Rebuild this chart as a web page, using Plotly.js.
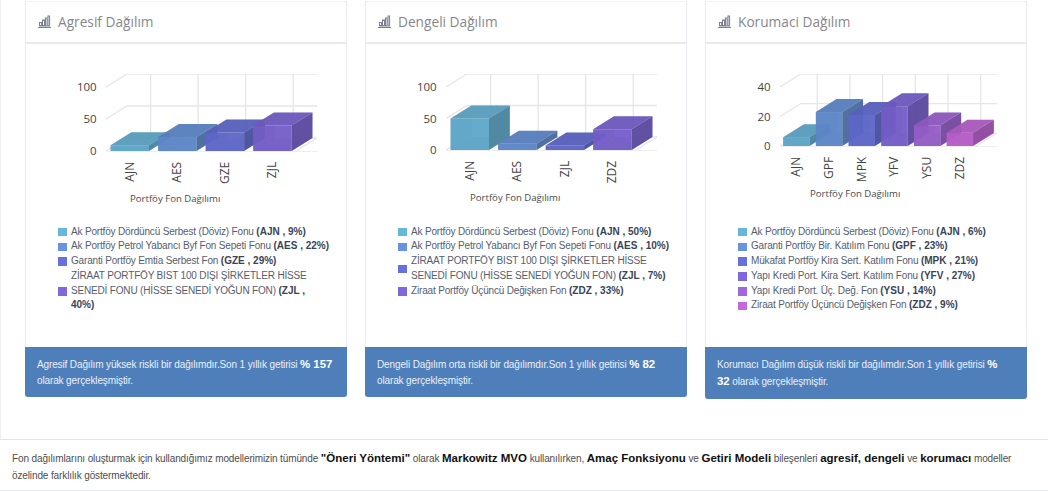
<!DOCTYPE html>
<html lang="tr">
<head>
<meta charset="utf-8">
<script src="https://cdn.plot.ly/plotly-3.0.1.min.js"></script>
<style>
html,body{margin:0;padding:0;background:#fff;width:1048px;height:491px;overflow:hidden;font-family:"Liberation Sans",Arial,sans-serif}
.abs{position:absolute}
.card{position:absolute;top:1px;width:322px;box-sizing:border-box;border:1px solid #e9ebf1;border-bottom:none;border-top-color:#f1f2f5;background:#fff}
.head{position:absolute;left:0;right:0;top:0;height:40px;border-bottom:2px solid #e8eaef}
.head svg{position:absolute;left:12px;top:13px}
.head span{position:absolute;left:32px;top:10px;font:13.7px "Open Sans",sans-serif;color:#85878e;white-space:nowrap}
.plot{position:absolute;left:0;top:43px;width:320px;height:166px}
.legend{position:absolute;left:32px;top:222.5px;width:272px;font-size:10px;line-height:14.8px;color:#555e70}
.item{position:relative;padding-left:13px}
.item i{position:absolute;left:0;top:50%;margin-top:-4px;width:8.5px;height:8.5px}
.ln{white-space:nowrap}
.legend .ln span{letter-spacing:-0.17px}
.item b{color:#3a4457}
.foot{position:absolute;left:-1px;right:-1px;top:345px;background:#4f7fbb;color:#eaf0f8;font-size:10px;line-height:16px;padding:9px 12px 8px 12px;border-radius:0 0 3px 3px;box-sizing:border-box}
.foot span{letter-spacing:-0.13px}
.foot b{font-size:11.4px;color:#fff}
#note{position:absolute;left:12px;top:449.5px;width:1030px;font-size:10px;line-height:17px;color:#4d4d4d}
#note span{letter-spacing:-0.12px}
#note b{font-size:11.5px;color:#111}
</style>
</head>
<body>
<div class="abs" style="left:0;top:0;width:1px;height:439px;background:#eef0f4"></div>
<div class="abs" style="left:0;top:439px;width:1048px;height:1px;background:#e2e4ec"></div>
<div class="abs" style="left:0;top:490px;width:1048px;height:1px;background:#e6e8ee"></div>
<div id="root"></div>
<div id="note"></div>
<script>
// ---- palette
const palette = ['#67b7dc','#6794dc','#6771dc','#8067dc','#a367dc','#c767dc'];

// ---- Agresif ('|' marks a line break in the legend and the caption)
const agresifTitle = 'Agresif Dağılım';
const agresifCodes = ['AJN','AES','GZE','ZJL'];
const agresifValues = [9,22,29,40];
const agresifNames = ['Ak Portföy Dördüncü Serbest (Döviz) Fonu','Ak Portföy Petrol Yabancı Byf Fon Sepeti Fonu','Garanti Portföy Emtia Serbest Fon','ZİRAAT PORTFÖY BIST 100 DIŞI ŞİRKETLER HİSSE|SENEDİ FONU (HİSSE SENEDİ YOĞUN FON)'];
const agresifTicks = [0,50,100];
const agresifFoot = [[['Agresif Dağılım yüksek riskli bir dağılımdır.Son 1 yıllık getirisi ',0],['% 157',1]],[['olarak gerçekleşmiştir.',0]]];

// ---- Dengeli
const dengeliTitle = 'Dengeli Dağılım';
const dengeliCodes = ['AJN','AES','ZJL','ZDZ'];
const dengeliValues = [50,10,7,33];
const dengeliNames = ['Ak Portföy Dördüncü Serbest (Döviz) Fonu','Ak Portföy Petrol Yabancı Byf Fon Sepeti Fonu','ZİRAAT PORTFÖY BIST 100 DIŞI ŞİRKETLER HİSSE|SENEDİ FONU (HİSSE SENEDİ YOĞUN FON)','Ziraat Portföy Üçüncü Değişken Fon'];
const dengeliTicks = [0,50,100];
const dengeliFoot = [[['Dengeli Dağılım orta riskli bir dağılımdır.Son 1 yıllık getirisi ',0],['% 82',1]],[['olarak gerçekleşmiştir.',0]]];

// ---- Korumaci
const korumaciTitle = 'Korumaci Dağılım';
const korumaciCodes = ['AJN','GPF','MPK','YFV','YSU','ZDZ'];
const korumaciValues = [6,23,21,27,14,9];
const korumaciNames = ['Ak Portföy Dördüncü Serbest (Döviz) Fonu','Garanti Portföy Bir. Katılım Fonu','Mükafat Portföy Kira Sert. Katılım Fonu','Yapı Kredi Port. Kira Sert. Katılım Fonu','Yapı Kredi Port. Üç. Değ. Fon','Ziraat Portföy Üçüncü Değişken Fon'];
const korumaciTicks = [0,20,40];
const korumaciFoot = [[['Korumacı Dağılım düşük riskli bir dağılımdır.Son 1 yıllık getirisi ',0],['%',1]],[['32',1],[' olarak gerçekleşmiştir.',0]]];

const xTitle = 'Portföy Fon Dağılımı';
const yTitle = '%';
const noteLines = [
 [['Fon dağılımlarını oluşturmak için kullandığımız modellerimizin tümünde ',0],['"Öneri Yöntemi"',1],[' olarak ',0],['Markowitz MVO',1],[' kullanılırken, ',0],['Amaç Fonksiyonu',1],[' ve ',0],['Getiri Modeli',1],[' bileşenleri ',0],['agresif, dengeli',1],[' ve ',0],['korumacı',1],[' modeller',0]],
 [['özelinde farklılık göstermektedir.',0]]
];

// ---- page geometry, in px
const cards = [
 {title:agresifTitle,codes:agresifCodes,values:agresifValues,names:agresifNames,ticks:agresifTicks,foot:agresifFoot,
  left:25,footH:50,plotL:106.4,band:47.5,y0:150,yTop:86,wrapLabel:3},
 {title:dengeliTitle,codes:dengeliCodes,values:dengeliValues,names:dengeliNames,ticks:dengeliTicks,foot:dengeliFoot,
  left:365,footH:50,plotL:446.4,band:47.5,y0:149,yTop:86,wrapLabel:-1},
 {title:korumaciTitle,codes:korumaciCodes,values:korumaciValues,names:korumaciNames,ticks:korumaciTicks,foot:korumaciFoot,
  left:705,footH:52,plotL:779.6,band:32.7,y0:145.3,yTop:86,wrapLabel:-1}
];
const depthX = 20.8, depthY = 13, barFrac = 0.81, xTitleCenter = 150;
const gridColor = '#e6e6e6';

function shade(hex,f,a){
  const n=parseInt(hex.slice(1),16);
  return `rgba(${Math.round((n>>16&255)*f)},${Math.round((n>>8&255)*f)},${Math.round((n&255)*f)},${a})`;
}
const runs=line=>line.map(([t,b])=>b?`<b>${t}</b>`:`<span>${t}</span>`).join('');
const block=lines=>lines.map(l=>`<div class="ln">${runs(l)}</div>`).join('');
const root=document.getElementById('root');
document.getElementById('note').innerHTML=block(noteLines);

cards.forEach(c=>{
  const el=document.createElement('div');
  el.className='card';
  el.style.left=c.left+'px';
  el.style.height='396px';
  const legend=c.names.map((nm,i)=>{
    const lines=nm.split('|').map(p=>[[p,0]]);
    const last=lines[lines.length-1];
    last.push([' ',0]);
    if(i===c.wrapLabel){
      last.push([`(${c.codes[i]} ,`,1]);
      lines.push([[`${c.values[i]}%)`,1]]);
    } else last.push([`(${c.codes[i]} , ${c.values[i]}%)`,1]);
    return `<div class="item"><i style="background:${palette[i]}"></i>${block(lines)}</div>`;
  }).join('');
  el.innerHTML=`<div class="head"><svg width="13" height="13" viewBox="0 0 13 13"><g fill="none" stroke="#7c8090" stroke-width="1"><rect x="1.5" y="7.5" width="2" height="3.5"/><rect x="4.5" y="5" width="2" height="6"/><rect x="7.5" y="3" width="1.6" height="8"/><rect x="10" y="1" width="1.6" height="10"/></g><path d="M0 12.5H13" stroke="#7c8090"/></svg><span>${c.title}</span></div><div class="plot"></div><div class="legend">${legend}</div><div class="foot" style="height:${c.footH}px">${block(c.foot)}</div>`;
  root.appendChild(el);

  const divL=c.left+1, divT=44, divW=320, divH=166;
  const n=c.codes.length;
  const tickMax=c.ticks[c.ticks.length-1];
  const pxPerUnit=(c.y0-c.yTop)/tickMax;
  const dx=depthX/c.band, dy=depthY/pxPerUnit;
  const xr=[-0.5,n-0.5+dx], yr=[0,tickMax+dy];
  const plotW=c.band*n+depthX, plotH=(c.y0-c.yTop)+depthY;
  const traces=[];
  const line=(xs,ys)=>traces.push({type:'scatter',mode:'lines',x:xs,y:ys,line:{color:gridColor,width:1.3},hoverinfo:'skip',showlegend:false,cliponaxis:false});
  c.ticks.forEach(v=>line([-0.5,-0.5+dx,n-0.5+dx],[v,v+dy,v+dy]));
  c.codes.forEach((_,i)=>line([i+dx,i+dx],[dy,tickMax+dy]));
  line([n-0.5,n-0.5+dx],[0,dy]);

  const layout={
    width:divW,height:divH,paper_bgcolor:'rgba(0,0,0,0)',plot_bgcolor:'rgba(0,0,0,0)',showlegend:false,barmode:'overlay',
    margin:{l:c.plotL-divL,t:(c.y0-plotH)-divT,r:divW-(c.plotL-divL)-plotW,b:divH-(c.y0-divT),pad:0},
    font:{family:'"Open Sans",sans-serif',size:11,color:'#555'},
    xaxis:{range:xr,tickmode:'array',tickvals:c.codes.map((_,i)=>i),ticktext:c.codes,tickangle:-90,showgrid:false,zeroline:false,showline:true,linecolor:'#eeeeee',ticks:'outside',ticklen:5,tickcolor:'rgba(0,0,0,0)',tickfont:{size:12,color:'#444'},fixedrange:true},
    yaxis:{range:yr,tickmode:'array',tickvals:c.ticks,ticktext:c.ticks.map(String),showgrid:false,zeroline:false,ticks:'outside',ticklen:6,tickcolor:'rgba(0,0,0,0)',tickfont:{size:11.5,color:'#444'},fixedrange:true},
    annotations:[
      {xref:'x',yref:'paper',x:(c.left+xTitleCenter-c.plotL)/c.band-0.5,y:0,yshift:-47,yanchor:'middle',xanchor:'center',showarrow:false,text:xTitle,font:{size:9.6,color:'#4a4a4a',family:'"Open Sans",sans-serif'}},
      {xref:'x',yref:'y',x:(c.left+37-c.plotL)/c.band-0.5,y:tickMax/2,showarrow:false,textangle:-90,text:'<b>'+yTitle+'</b>',font:{size:13,color:'#111',family:'"Open Sans",sans-serif'}}
    ]
  };
  c.codes.forEach((code,i)=>{
    const id=i+2, v=c.values[i], col=palette[i];
    const l=i-barFrac/2, r=i+barFrac/2;
    layout['xaxis'+id]={overlaying:'x',anchor:'y'+id,range:xr,visible:false,fixedrange:true};
    layout['yaxis'+id]={overlaying:'y',anchor:'x'+id,range:yr,visible:false,fixedrange:true};
    const ax={xaxis:'x'+id,yaxis:'y'+id};
    const face=(xs,ys,fill)=>traces.push(Object.assign({type:'scatter',mode:'lines',x:xs.concat(xs[0]),y:ys.concat(ys[0]),fill:'toself',fillcolor:fill,line:{width:0},hoverinfo:'skip',showlegend:false,cliponaxis:false},ax));
    traces.push(Object.assign({type:'bar',x:[i],y:[v],width:barFrac,name:code,marker:{color:shade(col,0.92,0.96),line:{width:0}},hovertemplate:code+': %{y}%<extra></extra>',cliponaxis:false},ax));
    // hidden walls, seen through the translucent faces
    face([l,r,r+dx,l+dx],[0,0,dy,dy],shade(col,0.85,0.2));
    face([l+dx,r+dx,r+dx,l+dx],[dy,dy,v+dy,v+dy],shade(col,0.95,0.12));
    face([l,l+dx,l+dx,l],[0,dy,v+dy,v],shade(col,0.8,0.12));
    // visible top and side
    face([l,r,r+dx,l+dx],[v,v,v+dy,v+dy],shade(col,0.85,0.96));
    face([r,r,r+dx,r+dx],[0,v,v+dy,dy],shade(col,0.72,0.96));
  });
  Plotly.newPlot(el.querySelector('.plot'),traces,layout,{staticPlot:true,displayModeBar:false});
});
</script>
</body>
</html>
